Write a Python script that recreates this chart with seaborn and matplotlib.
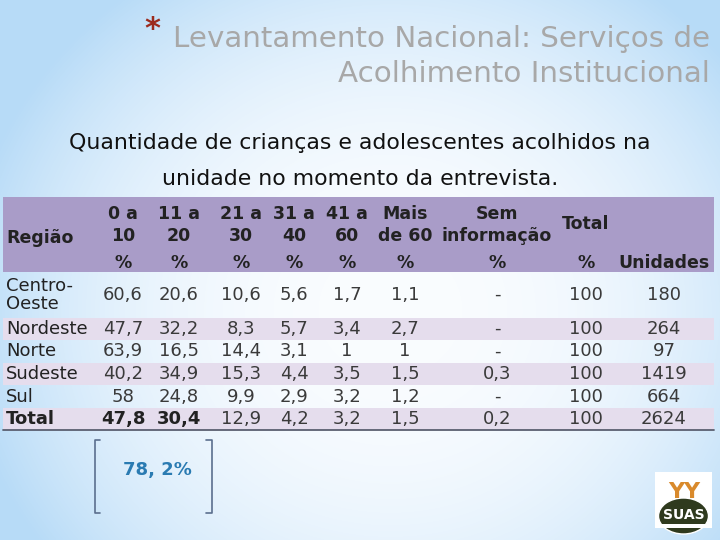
import numpy as np
import matplotlib
matplotlib.use("Agg")
import matplotlib.pyplot as plt
from matplotlib.patches import Rectangle, Ellipse
import seaborn as sns

# table data
regions = ["Centro-\nOeste", "Nordeste", "Norte", "Sudeste", "Sul", "Total"]
age_0_10 = [60.6, 47.7, 63.9, 40.2, 58, 47.8]
age_11_20 = [20.6, 32.2, 16.5, 34.9, 24.8, 30.4]
age_21_30 = [10.6, 8.3, 14.4, 15.3, 9.9, 12.9]
age_31_40 = [5.6, 5.7, 3.1, 4.4, 2.9, 4.2]
age_41_60 = [1.7, 3.4, 1, 3.5, 3.2, 3.2]
over_60 = [1.1, 2.7, 1, 1.5, 1.2, 1.5]
no_info = [None, None, None, 0.3, None, 0.2]
total_pct = [100, 100, 100, 100, 100, 100]
units = [180, 264, 97, 1419, 664, 2624]

headers = ["0 a\n10", "11 a\n20", "21 a\n30", "31 a\n40", "41 a\n60",
           "Mais\nde 60", "Sem\ninformação", "Total", ""]
header_units = ["%", "%", "%", "%", "%", "%", "%", "%", "Unidades"]
highlight = "78, 2%"

columns = [age_0_10, age_11_20, age_21_30, age_31_40, age_41_60,
           over_60, no_info, total_pct, units]


def fmt(v):
    if v is None:
        return "-"
    if float(v).is_integer():
        return str(int(v))
    return f"{v:.1f}".replace(".", ",")


sns.set_style("white")
plt.rcParams["font.family"] = ["DejaVu Sans"]

fig = plt.figure(figsize=(7.2, 5.4), dpi=100)
ax = fig.add_axes([0, 0, 1, 1])
ax.set_xlim(0, 720)
ax.set_ylim(540, 0)
ax.axis("off")

# soft blue background
xx, yy = np.meshgrid(np.arange(720), np.arange(540))
t = np.clip(((xx - 390) / 430.0) ** 2 + ((yy - 310) / 400.0) ** 2, 0, 1) ** 1.2
blue = np.array([0.72, 0.86, 0.97])
white = np.array([0.98, 0.99, 1.0])
bg = white[None, None, :] * (1 - t[..., None]) + blue[None, None, :] * t[..., None]
ax.imshow(bg, extent=(0, 720, 540, 0), aspect="auto", zorder=0)

# title
ax.text(710, 47, "Levantamento Nacional: Serviços de", ha="right", va="baseline",
        fontsize=21.2, color="#a8a8a8")
ax.text(710, 82, "Acolhimento Institucional", ha="right", va="baseline",
        fontsize=21.2, color="#a8a8a8")
ax.text(152, 30, "*", ha="center", va="center", fontsize=22, color="#9c2b1e",
        fontweight="bold")

# subtitle
ax.text(360, 143, "Quantidade de crianças e adolescentes acolhidos na",
        ha="center", va="center", fontsize=15.8, color="#111111")
ax.text(360, 179, "unidade no momento da entrevista.",
        ha="center", va="center", fontsize=15.8, color="#111111")

# table layout
x0, x1 = 3, 714
row_edges = [197, 272, 318, 340, 363, 385, 408, 430]
col_x = [123, 179, 241, 294, 347, 405, 497, 586, 664]
stripe = "#e5dded"
header_bg = "#a99cc8"

ax.barh((row_edges[0] + row_edges[1]) / 2, x1 - x0, left=x0,
        height=row_edges[1] - row_edges[0], color=header_bg, linewidth=0, zorder=1)
for i in range(len(regions)):
    top, bot = row_edges[i + 1], row_edges[i + 2]
    if i % 2 == 1:
        ax.barh((top + bot) / 2, x1 - x0, left=x0, height=bot - top,
                color=stripe, linewidth=0, zorder=1)
ax.plot([x0, x1], [row_edges[-1], row_edges[-1]], color="#5a5f70", lw=1.3, zorder=2)

# header text
ax.text(6, 238, "Região", ha="left", va="center", fontsize=12.5,
        fontweight="bold", color="#222222")
for cx, h, u in zip(col_x, headers, header_units):
    if h == "Total":
        ax.text(cx, 224, h, ha="center", va="center", fontsize=12.5,
                fontweight="bold", color="#222222")
    elif h:
        ax.text(cx, 225, h, ha="center", va="center", fontsize=12.5,
                fontweight="bold", color="#222222", linespacing=1.25)
    ax.text(cx, 263, u, ha="center", va="center", fontsize=12.5,
            fontweight="bold", color="#222222")

# body text
for i, reg in enumerate(regions):
    cy = (row_edges[i + 1] + row_edges[i + 2]) / 2
    is_total = reg == "Total"
    ax.text(6, cy, reg, ha="left", va="center", fontsize=13,
            fontweight="bold" if is_total else "normal", color="#222222",
            linespacing=1.0)
    for j, (cx, col) in enumerate(zip(col_x, columns)):
        bold = is_total and j < 2
        ax.text(cx, cy, fmt(col[i]), ha="center", va="center", fontsize=13,
                fontweight="bold" if bold else "normal",
                color="#222222" if bold else "#3a3a3a")

# bracket with highlight
bc = "#5b6f8e"
ax.plot([100, 95, 95, 100], [440, 440, 513, 513], color=bc, lw=1.2)
ax.plot([206, 212, 212, 206], [440, 440, 513, 513], color=bc, lw=1.2)
ax.text(157, 470, highlight, ha="center", va="center", fontsize=13,
        fontweight="bold", color="#2a7bb2")

# logo
ax.add_patch(Rectangle((655, 472), 57, 56, facecolor="white", edgecolor="none", zorder=3))
ax.add_patch(Ellipse((683.5, 516), 50, 36, facecolor="#2f3a1e", zorder=4))
ax.add_patch(Rectangle((658, 524), 51, 4, facecolor="white", edgecolor="none", zorder=5))
ax.text(676, 492, "Y", ha="center", va="center", fontsize=16, fontweight="bold",
        color="#d98a2c", zorder=6)
ax.text(691, 492, "Y", ha="center", va="center", fontsize=16, fontweight="bold",
        color="#d98a2c", zorder=6)
ax.text(683.5, 515, "SUAS", ha="center", va="center", fontsize=10, fontweight="bold",
        color="white", zorder=6)

fig.savefig("out.png", dpi=100)
